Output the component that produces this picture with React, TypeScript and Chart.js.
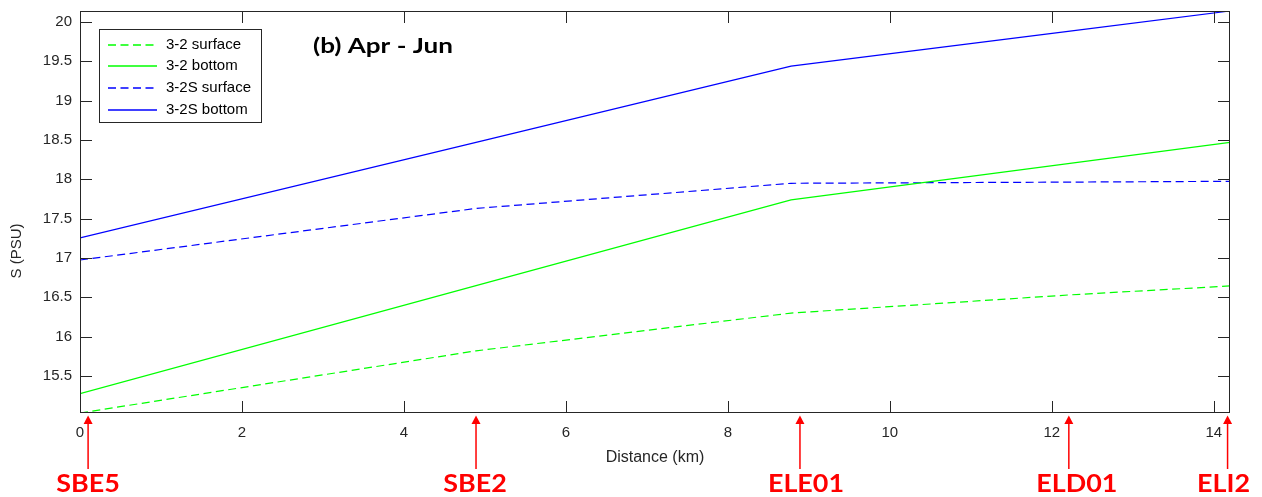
import React, { useEffect, useRef } from "react";
import { Chart, registerables } from "chart.js";

Chart.register(...registerables);

// ---- Data ----
const distanceKm = [0, 4.89, 8.78, 12.2, 14.2];
const s32Surface = [15.03, 15.82, 16.3, 16.53, 16.645];
const s32Bottom = [15.276, 16.65, 17.74, 18.2, 18.47];
const s32SSurface = [16.975, 17.63, 17.95, 17.965, 17.975];
const s32SBottom = [17.256, 18.47, 19.44, 19.88, 20.14];

const seriesLabels = ["3-2 surface", "3-2 bottom", "3-2S surface", "3-2S bottom"];
const xTicks = [0, 2, 4, 6, 8, 10, 12, 14];
const yTicks = [15.5, 16, 16.5, 17, 17.5, 18, 18.5, 19, 19.5, 20];
const stationNames = ["SBE5", "SBE2", "ELE01", "ELD01", "ELI2"];
const stationKm = [0.1, 4.89, 8.89, 12.21, 14.17];
const panelTitle = "(b) Apr - Jun";
const xTitle = "Distance (km)";
const yTitle = "S (PSU)";

const GREEN = "#00ff00";
const BLUE = "#0000ff";
const AXIS = "#262626";
const DASH = [8, 4.5];
const seriesColors = [GREEN, GREEN, BLUE, BLUE];
const seriesDashed = [true, false, true, false];

const allVals = [...s32Surface, ...s32Bottom, ...s32SSurface, ...s32SBottom];
const yMin = Math.min(...allVals);
const yMax = Math.max(...allVals);
const xMin = distanceKm[0];
const xMax = distanceKm[distanceKm.length - 1];

const toPts = (ys: number[]) => distanceKm.map((x, i) => ({ x, y: ys[i] }));

function stretchedText(ctx: CanvasRenderingContext2D, text: string, cx: number, y: number, sx: number, align: "left" | "center") {
  ctx.save();
  ctx.translate(cx, y);
  ctx.scale(sx, 1);
  ctx.textAlign = align;
  ctx.fillText(text, 0, 0);
  ctx.restore();
}

// label nudges (px) relative to each station arrow
const LABEL_NUDGE = [0, -1, 6, 8, -4];

const decorPlugin = {
  id: "decor",
  afterDraw(chart: any) {
    const ctx = chart.ctx as CanvasRenderingContext2D;
    const { left, right, top, bottom } = chart.chartArea;
    const xs = chart.scales.x;
    const ys = chart.scales.y;
    ctx.save();

    // box
    ctx.strokeStyle = AXIS;
    ctx.lineWidth = 1;
    ctx.setLineDash([]);
    ctx.strokeRect(Math.round(left) + 0.5, Math.round(top) + 0.5, Math.round(right - left) - 1, Math.round(bottom - top) - 1);

    // inward ticks
    const TL = 12;
    ctx.beginPath();
    for (const v of xTicks) {
      const px = Math.round(xs.getPixelForValue(v)) + 0.5;
      ctx.moveTo(px, bottom);
      ctx.lineTo(px, bottom - TL);
      ctx.moveTo(px, top);
      ctx.lineTo(px, top + TL);
    }
    for (const v of yTicks) {
      const py = Math.round(ys.getPixelForValue(v)) + 0.5;
      ctx.moveTo(left, py);
      ctx.lineTo(left + TL, py);
      ctx.moveTo(right, py);
      ctx.lineTo(right - TL, py);
    }
    ctx.stroke();

    // y title
    ctx.save();
    ctx.translate(17, 251);
    ctx.rotate(-Math.PI / 2);
    ctx.fillStyle = AXIS;
    ctx.font = "15px 'Liberation Sans', Arial, sans-serif";
    ctx.textAlign = "center";
    ctx.textBaseline = "middle";
    ctx.fillText(yTitle, 0, 0);
    ctx.restore();

    // legend box
    const lx = Math.round(left + 19), ly = Math.round(top + 18), lw = 162, lh = 93;
    ctx.fillStyle = "#ffffff";
    ctx.fillRect(lx, ly, lw, lh);
    ctx.strokeStyle = AXIS;
    ctx.lineWidth = 1;
    ctx.strokeRect(lx + 0.5, ly + 0.5, lw, lh);

    // legend samples
    for (let i = 0; i < seriesLabels.length; i++) {
      const ry = Math.round(ly + 14.7 + i * 21.7) + 1;
      ctx.save();
      ctx.strokeStyle = seriesColors[i];
      ctx.lineWidth = 1.3;
      ctx.setLineDash(seriesDashed[i] ? DASH : []);
      ctx.beginPath();
      ctx.moveTo(lx + 9, ry);
      ctx.lineTo(lx + 58, ry);
      ctx.stroke();
      ctx.restore();
    }
    // legend texts
    ctx.save();
    ctx.font = "15px 'Liberation Sans', Arial, sans-serif";
    ctx.textAlign = "left";
    ctx.textBaseline = "middle";
    ctx.fillStyle = "#000000";
    for (let i = 0; i < seriesLabels.length; i++) {
      const ry = Math.round(ly + 14.7 + i * 21.7) + 0.5;
      ctx.fillText(seriesLabels[i], lx + 67, ry);
    }
    ctx.restore();

    // panel title
    ctx.fillStyle = "#000000";
    ctx.font = "bold 20px Lato, 'Open Sans', sans-serif";
    ctx.textBaseline = "alphabetic";
    {
      const w = ctx.measureText(panelTitle).width;
      stretchedText(ctx, panelTitle, left + 233, top + 42, 140 / w, "left");
    }

    // station arrows
    ctx.strokeStyle = "#ff0000";
    ctx.fillStyle = "#ff0000";
    ctx.lineWidth = 1.5;
    ctx.font = "bold 24px Lato, 'Open Sans', sans-serif";
    ctx.textBaseline = "alphabetic";
    stationKm.forEach((km, i) => {
      const px = xs.getPixelForValue(km);
      ctx.beginPath();
      ctx.moveTo(px, bottom + 9);
      ctx.lineTo(px, 469);
      ctx.stroke();
      ctx.beginPath();
      ctx.moveTo(px, bottom + 2.5);
      ctx.lineTo(px - 4.5, bottom + 11);
      ctx.lineTo(px + 4.5, bottom + 11);
      ctx.closePath();
      ctx.fill();
      stretchedText(ctx, stationNames[i], px + LABEL_NUDGE[i], 492, 1.12, "center");
    });

    ctx.restore();
  },
};

export default function App() {
  const ref = useRef<HTMLCanvasElement | null>(null);
  useEffect(() => {
    if (!ref.current) return;
    const mk = (i: number, data: number[]) => ({
      label: seriesLabels[i],
      data: toPts(data),
      borderColor: seriesColors[i],
      backgroundColor: seriesColors[i],
      borderWidth: 1.2,
      borderDash: seriesDashed[i] ? DASH : [],
      pointRadius: 0,
      tension: 0,
      fill: false,
    });
    const chart = new Chart(ref.current, {
      type: "line",
      data: {
        datasets: [mk(0, s32Surface), mk(1, s32Bottom), mk(2, s32SSurface), mk(3, s32SBottom)],
      },
      options: {
        animation: false,
        responsive: false,
        devicePixelRatio: 1,
        layout: { padding: { top: 11, right: 32, left: 0, bottom: 0 } },
        plugins: { legend: { display: false }, tooltip: { enabled: false } },
        scales: {
          x: {
            type: "linear",
            min: xMin,
            max: xMax,
            afterBuildTicks: (s: any) => {
              s.ticks = xTicks.map((v) => ({ value: v }));
            },
            afterFit: (s: any) => {
              s.height = 84;
              s.paddingLeft = 0;
              s.paddingRight = 0;
            },
            grid: { display: false, drawTicks: false },
            border: { display: false },
            ticks: {
              color: AXIS,
              font: { family: "'Liberation Sans', Arial, sans-serif", size: 15 },
              padding: 11,
              maxRotation: 0,
              autoSkip: false,
              callback: (v: any) => String(v),
            },
            title: {
              display: true,
              text: xTitle,
              color: AXIS,
              font: { family: "'Liberation Sans', Arial, sans-serif", size: 16 },
              padding: { top: 0, bottom: 30 },
            },
          },
          y: {
            type: "linear",
            min: yMin,
            max: yMax,
            afterBuildTicks: (s: any) => {
              s.ticks = yTicks.map((v) => ({ value: v }));
            },
            afterFit: (s: any) => {
              s.width = 80;
              s.paddingTop = 0;
              s.paddingBottom = 0;
            },
            grid: { display: false, drawTicks: false },
            border: { display: false },
            ticks: {
              color: AXIS,
              font: { family: "'Liberation Sans', Arial, sans-serif", size: 15 },
              padding: 8,
              autoSkip: false,
              callback: (v: any) => String(v),
            },
          },
        },
      },
      plugins: [decorPlugin],
    });
    return () => chart.destroy();
  }, []);

  return (
    <div style={{ position: "fixed", left: 0, top: 0, width: 1262, height: 497, background: "#ffffff" }}>
      <canvas ref={ref} width={1262} height={497} style={{ width: 1262, height: 497, display: "block" }} />
    </div>
  );
}
